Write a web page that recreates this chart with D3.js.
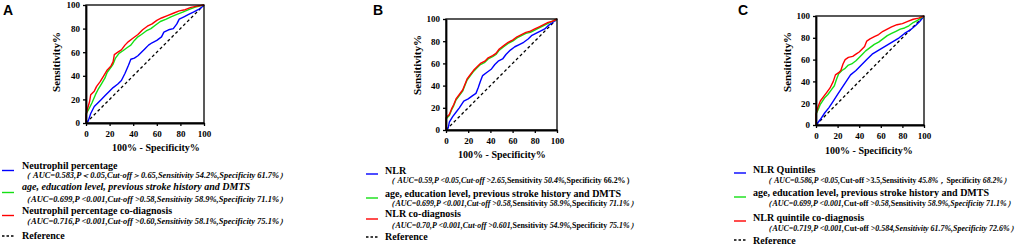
<!DOCTYPE html>
<html>
<head>
  <script src="https://d3js.org/d3.v7.min.js"></script>
  <style>
    html, body {
      margin: 0px;
      padding: 0px;
      background: #ffffff;
    }
    svg text {
      font-family: "Liberation Serif", "Times New Roman", serif;
      font-weight: bold;
      fill: #000;
    }
    .tick text {
      font-size: 9px;
    }
    .panelLabel {
      font-family: "Liberation Sans", Arial, sans-serif !important;
      font-size: 14px;
    }
    .axisTitle {
      font-size: 10px;
    }
    .yTitle {
      font-size: 11px;
    }
    .legMain {
      font-size: 10px;
    }
    .legSub {
      font-size: 7.5px;
    }
  </style>
</head>
<body>
  <div id="chart"></div>
  <script>

    /*
    DATA - ROC points, [100% - specificity, sensitivity]
    */
    const ticks = [0, 20, 40, 60, 80, 100];
    const xTitle = "100% - Specificity%";
    const yTitle = "Sensitivity%";
    const panelNames = ["A", "B", "C"];

    const neutA = [[0,0],[2,2],[4,8],[7,14],[10,17],[13,20],[16,23],[19,26],[23,30],[27,33],[30,36],[33,42],[36,49],[38,54],[41,55],[44,57],[47,60],[50,63],[53,66],[56,68],[60,70],[64,73],[66,77],[70,79],[74,80],[77,84],[79,88],[83,90],[87,92],[91,94],[95,96],[98,98],[100,100]];
    const clinA = [[0,0],[0,8],[2,11],[5,17],[8,24],[10,28],[13,33],[16,38],[18,43],[21,47],[23,50],[25,55],[28,59],[31,61],[35,64],[38,66],[41,70],[44,73],[47,75],[51,78],[55,80],[59,83],[63,86],[68,88],[72,90],[77,92],[82,94],[87,96],[92,98],[96,99],[100,100]];
    const coA = [[0,0],[0,6],[1,11],[3,18],[4,24],[7,27],[9,31],[12,35],[15,40],[18,45],[21,48],[23,52],[24,58],[27,60],[30,62],[33,66],[36,69],[40,72],[44,75],[48,79],[52,82],[56,84],[60,87],[64,89],[69,91],[74,93],[79,95],[84,96],[89,98],[94,99],[100,100]];

    const nlrB = [[0,0],[2,2],[3,7],[6,12],[9,16],[12,20],[16,26],[20,28],[24,31],[27,33],[29,38],[31,44],[33,49],[37,52],[41,55],[44,59],[47,62],[51,64],[54,68],[58,72],[62,75],[66,77],[70,79],[74,82],[77,85],[81,87],[85,89],[89,91],[92,94],[95,96],[100,100]];
    const clinB = [[0,0],[0,10],[3,13],[5,18],[7,22],[9,27],[12,31],[15,35],[17,40],[19,45],[22,49],[25,53],[28,56],[31,59],[35,61],[38,64],[42,66],[45,68],[48,72],[52,75],[56,78],[60,80],[64,83],[68,85],[72,87],[76,88],[80,90],[84,92],[88,94],[92,96],[96,98],[100,100]];
    const coB = [[0,0],[0,11],[3,14],[5,19],[7,23],[9,28],[12,32],[15,36],[17,41],[19,46],[22,50],[25,54],[28,57],[31,60],[35,62],[38,65],[42,67],[45,69],[48,73],[52,76],[56,79],[60,81],[64,84],[68,86],[72,88],[76,89],[80,91],[84,93],[88,95],[92,97],[96,98],[100,100]];

    const quinC = [[0,0],[4,5],[8,11],[12,16],[16,22],[20,28],[24,34],[28,40],[32,46],[37,50],[42,55],[47,60],[52,65],[57,68],[62,71],[67,74],[72,77],[77,80],[82,84],[87,87],[92,91],[96,95],[100,100]];
    const clinC = [[0,0],[0,10],[2,14],[4,19],[6,22],[8,25],[11,28],[14,32],[17,36],[19,42],[21,47],[24,50],[27,52],[30,55],[33,56],[37,59],[40,62],[43,65],[46,68],[50,71],[54,74],[58,76],[62,79],[66,82],[70,84],[74,86],[78,88],[82,89],[86,91],[90,94],[94,96],[97,98],[100,100]];
    const coC = [[0,0],[0,10],[2,17],[4,22],[7,26],[10,30],[13,34],[16,40],[18,46],[21,48],[23,50],[25,56],[27,60],[30,62],[34,63],[37,65],[40,67],[43,70],[45,72],[47,77],[50,79],[54,81],[58,83],[62,86],[66,88],[70,90],[75,92],[80,93],[85,95],[90,97],[95,98],[100,100]];

    // legend texts; "|" toggles italic in the sub lines (they start italic)
    const legendA = [
      "Neutrophil percentage",
      "（ AUC=0.583,P＜0.05,Cut-off＞0.65,Sensitivity 54.2%,Specificity 61.7%）",
      "age, education level, previous stroke history and DMTS",
      "（AUC=0.699,P <0.001,Cut-off >0.58,Sensitivity 58.9%,Specificity 71.1%）",
      "Neutrophil percentage co-diagnosis",
      "（AUC=0.716,P <0.001,Cut-off >0.60,Sensitivity 58.1%,Specificity 75.1%）"
    ];
    const legendB = [
      "NLR",
      "（ AUC=0.59,P <0.05,Cut-off >2.65,|Sensitivity |50.4%,|Specificity 66.2%）",
      "age, education level, previous stroke history and DMTS",
      "（AUC=0.699,P <0.001,Cut-off >0.58,|Sensitivity |58.9%,|Specificity |71.1%）",
      "NLR co-diagnosis",
      "（AUC=0.70,P <0.001,Cut-off >0.601,|Sensitivity |54.9%,|Specificity |75.1%）"
    ];
    const legendC = [
      "NLR Quintiles",
      "（ AUC=0.586,P <0.05,|Cut-off >3.5,Sensitivity |45.8%，|Specificity |68.2%）",
      "age, education level, previous stroke history and DMTS",
      "（AUC=0.699,P <0.001,|Cut-off |>0.58,|Sensitivity |58.9%,Specificity 71.1%）",
      "NLR quintile co-diagnosis",
      "（AUC=0.719,P <0.001,|Cut-off |>0.584,Sensitivity 61.7%,Specificity 72.6%）"
    ];
    const refLabel = "Reference";

    const colors = ["#0000ff", "#14e014", "#ff0000"];

    /*
    LAYOUT
    */
    const width = 1021, height = 247;
    const svg = d3.select("#chart").append("svg")
      .attr("width", width)
      .attr("height", height);

    const panels = [
      {name: panelNames[0], series: [neutA, clinA, coA], legend: legendA, italicMain2: true,
       box: [86, 204, 5, 123], lab: [3, 15], xt: [156, 151], yt: [60, 62],
       leg: {x: 2, tx: 22, sx: 22, main: [169, 190, 214], sub: [177.5, 201.5, 224], mark: [170.5, 192.5, 215.5], ref: 239, refMark: 236, sw: [266, 266, 266]}},
      {name: panelNames[1], series: [nlrB, clinB, coB], legend: legendB, italicMain2: false,
       box: [446, 557, 19, 130], lab: [373, 15], xt: [502, 158], yt: [421, 65],
       leg: {x: 366, tx: 385, sx: 387, main: [174, 196.5, 217], sub: [183, 205.5, 228], mark: [174, 198, 219], ref: 240, refMark: 237, sw: [247, 251, 251]}},
      {name: panelNames[2], series: [quinC, clinC, coC], legend: legendC, italicMain2: false,
       box: [816, 924, 16, 125], lab: [738, 15], xt: [869, 154], yt: [791, 62],
       leg: {x: 734, tx: 753, sx: 764, main: [173, 196, 221], sub: [183, 206, 231], mark: [173, 197, 221], ref: 244, refMark: 240, sw: [247, 251, 254]}}
    ];

    panels.forEach(function(p) {
      const g = svg.append("g");
      const [x0, x1, y0, y1] = p.box;

      const xScale = d3.scaleLinear().domain([0, 100]).range([x0, x1]);
      const yScale = d3.scaleLinear().domain([0, 100]).range([y1, y0]);

      // panel letter
      g.append("text")
        .attr("class", "panelLabel")
        .attr("x", p.lab[0])
        .attr("y", p.lab[1])
        .text(p.name);

      // diagonal reference
      g.append("line")
        .attr("x1", xScale(0)).attr("y1", yScale(0))
        .attr("x2", xScale(100)).attr("y2", yScale(100))
        .attr("stroke", "#000")
        .attr("stroke-width", 1.3)
        .attr("stroke-dasharray", "3,2.5");

      // ROC curves
      const line = d3.line()
        .x(function(d) { return xScale(d[0]); })
        .y(function(d) { return yScale(d[1]); });

      [0, 1, 2].forEach(function(i) {
        g.append("path")
          .datum(p.series[i])
          .attr("d", line)
          .attr("fill", "none")
          .attr("stroke", colors[i])
          .attr("stroke-width", 1.4)
          .attr("stroke-linejoin", "round");
      });

      // frame
      g.append("rect")
        .attr("x", x0).attr("y", y0)
        .attr("width", x1 - x0).attr("height", y1 - y0)
        .attr("fill", "none")
        .attr("stroke", "#000")
        .attr("stroke-width", 1.3);

      // axes
      const xAxis = g.append("g")
        .attr("transform", `translate(0,${y1})`)
        .call(d3.axisBottom(xScale).tickValues(ticks).tickSize(3).tickSizeOuter(0).tickPadding(5));
      const yAxis = g.append("g")
        .attr("transform", `translate(${x0},0)`)
        .call(d3.axisLeft(yScale).tickValues(ticks).tickSize(3).tickSizeOuter(0).tickPadding(3));
      [xAxis, yAxis].forEach(function(a) {
        a.select(".domain").attr("stroke-width", 1.8);
        a.selectAll(".tick line").attr("stroke-width", 1.3);
        a.selectAll(".tick text").attr("font-family", null).attr("fill", "#000");
      });

      // axis titles
      g.append("text")
        .attr("class", "axisTitle")
        .attr("x", p.xt[0])
        .attr("y", p.xt[1])
        .attr("text-anchor", "middle")
        .text(xTitle);
      g.append("text")
        .attr("class", "yTitle")
        .attr("transform", `translate(${p.yt[0]},${p.yt[1]}) rotate(-90)`)
        .attr("text-anchor", "middle")
        .text(yTitle);

      // legend
      const L = p.leg;
      [0, 1, 2].forEach(function(i) {
        g.append("line")
          .attr("x1", L.x).attr("x2", L.x + 12)
          .attr("y1", L.mark[i]).attr("y2", L.mark[i])
          .attr("stroke", colors[i])
          .attr("stroke-width", 1.4);

        g.append("text")
          .attr("class", "legMain")
          .attr("x", L.tx)
          .attr("y", L.main[i])
          .attr("font-style", (i == 1 && p.italicMain2) ? "italic" : "normal")
          .text(p.legend[i * 2]);

        const sub = g.append("text")
          .attr("class", "legSub")
          .attr("x", L.sx)
          .attr("y", L.sub[i])
          .attr("textLength", L.sw[i])
          .attr("lengthAdjust", "spacingAndGlyphs");
        p.legend[i * 2 + 1].split("|").forEach(function(part, k) {
          sub.append("tspan")
            .attr("font-style", k % 2 == 0 ? "italic" : "normal")
            .text(part);
        });
      });

      g.append("line")
        .attr("x1", L.x).attr("x2", L.x + 12)
        .attr("y1", L.refMark).attr("y2", L.refMark)
        .attr("stroke", "#000")
        .attr("stroke-width", 1.4)
        .attr("stroke-dasharray", "2.5,2");
      g.append("text")
        .attr("class", "legMain")
        .attr("x", L.tx)
        .attr("y", L.ref)
        .text(refLabel);
    });

  </script>
</body>
</html>
